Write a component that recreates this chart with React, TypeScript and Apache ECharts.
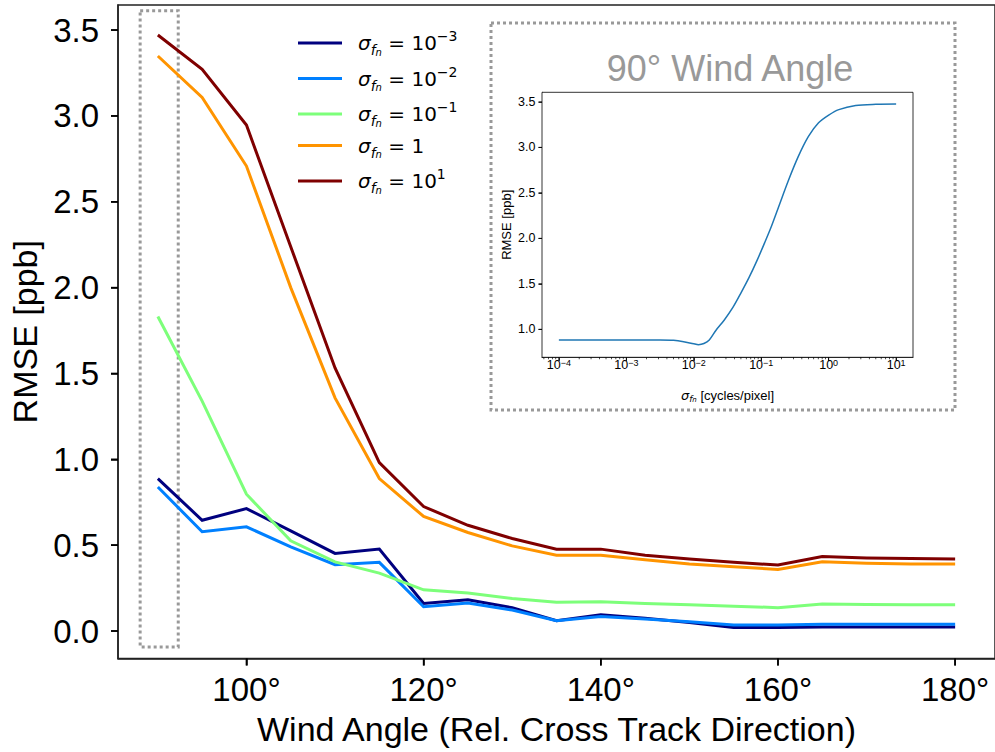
import React, { useEffect, useRef } from 'react';
import * as echarts from 'echarts';

// ---- Main chart data ----
const angles = [90, 95, 100, 105, 110, 115, 120, 125, 130, 135, 140, 145, 150, 155, 160, 165, 170, 175, 180];
const rmseSigma1e3 = [0.888, 0.645, 0.713, 0.583, 0.452, 0.477, 0.161, 0.182, 0.136, 0.06, 0.095, 0.075, 0.05, 0.02, 0.02, 0.023, 0.023, 0.023, 0.023];
const rmseSigma1e2 = [0.839, 0.578, 0.607, 0.49, 0.386, 0.40, 0.141, 0.163, 0.122, 0.06, 0.085, 0.07, 0.054, 0.035, 0.035, 0.04, 0.04, 0.04, 0.04];
const rmseSigma1e1 = [1.832, 1.339, 0.797, 0.525, 0.403, 0.337, 0.24, 0.221, 0.19, 0.167, 0.171, 0.161, 0.153, 0.145, 0.136, 0.157, 0.155, 0.153, 0.153];
const rmseSigma1 = [3.349, 3.108, 2.708, 2.0, 1.358, 0.888, 0.667, 0.574, 0.496, 0.442, 0.442, 0.415, 0.39, 0.374, 0.359, 0.403, 0.395, 0.391, 0.39];
const rmseSigma10 = [3.471, 3.272, 2.947, 2.238, 1.532, 0.981, 0.725, 0.616, 0.539, 0.477, 0.477, 0.442, 0.419, 0.40, 0.384, 0.434, 0.426, 0.422, 0.419];

const seriesNames = ['1e-3', '1e-2', '1e-1', '1', '1e1'];
const seriesExponents = ['−3', '−2', '−1', '', '1'];
const seriesColors = ['#00007f', '#0080ff', '#7dff7a', '#ff9400', '#7f0000'];
const seriesValues = [rmseSigma1e3, rmseSigma1e2, rmseSigma1e1, rmseSigma1, rmseSigma10];

const xTicks = [100, 120, 140, 160, 180];
const yTicks = [0, 0.5, 1.0, 1.5, 2.0, 2.5, 3.0, 3.5];
const xRange = [85.5, 184.5];
const yRange = [-0.16, 3.646];

// dotted highlight box around the 90° column (data coordinates)
const boxX = [88.0, 92.3];
const boxY = [-0.093, 3.613];

// ---- Inset data (log10 of sigma_fn vs RMSE at 90°) ----
const insetLogSigma = [-4, -3.5, -3, -2.5, -2.3, -2.15, -2.0, -1.93, -1.85, -1.77, -1.67, -1.55, -1.42, -1.3, -1.18, -1.06, -0.95, -0.85, -0.74, -0.6, -0.45, -0.3, -0.15, 0, 0.15, 0.4, 0.7, 1.0];
const insetRmse = [0.882, 0.882, 0.882, 0.882, 0.879, 0.864, 0.840, 0.831, 0.843, 0.882, 0.99, 1.10, 1.24, 1.40, 1.57, 1.76, 1.95, 2.13, 2.35, 2.63, 2.9, 3.12, 3.27, 3.355, 3.415, 3.46, 3.473, 3.476];
const insetXTicks = [-4, -3, -2, -1, 0, 1];
const insetYTicks = [1.0, 1.5, 2.0, 2.5, 3.0, 3.5];
const insetXRange = [-4.25, 1.25];
const insetYRange = [0.692, 3.605];
const insetMinorMultipliers = [2, 3, 4, 5, 6, 7, 8, 9];
const insetDecades = [-5, -4, -3, -2, -1, 0, 1];

const FONT = '"Liberation Sans", Arial, Helvetica, sans-serif';
const MATH = '"DejaVu Sans", sans-serif';

export default function App() {
  const ref = useRef<HTMLDivElement>(null);

  useEffect(() => {
    if (!ref.current) return;
    const chart = echarts.init(ref.current, undefined, { renderer: 'svg' });

    const minorTicks: number[] = [];
    insetDecades.forEach((d) => {
      insetMinorMultipliers.forEach((m) => {
        const v = d + Math.log10(m);
        if (v > insetXRange[0] && v < insetXRange[1]) minorTicks.push(v);
      });
    });

    const legendRich = {
      s: { fontFamily: MATH, fontStyle: 'italic', fontSize: 20, lineHeight: 28, color: '#000' },
      f: { fontFamily: MATH, fontStyle: 'italic', fontSize: 14, lineHeight: 14, verticalAlign: 'bottom', color: '#000' },
      n: { fontFamily: MATH, fontStyle: 'italic', fontSize: 10, lineHeight: 10, verticalAlign: 'bottom', color: '#000' },
      t: { fontFamily: MATH, fontSize: 20, lineHeight: 28, color: '#000' },
      p: { fontFamily: MATH, fontSize: 14, lineHeight: 14, verticalAlign: 'top', color: '#000' },
    };

    const series: any[] = seriesNames.map((name, k) => ({
      name,
      type: 'line',
      xAxisIndex: 0,
      yAxisIndex: 0,
      data: angles.map((a, i) => [a, seriesValues[k][i]]),
      symbol: 'none',
      lineStyle: { width: 3, color: seriesColors[k], cap: 'butt', join: 'miter' },
      itemStyle: { color: seriesColors[k] },
      z: 3 + k,
    }));

    series[0].markArea = {
      silent: true,
      itemStyle: { color: 'rgba(0,0,0,0)', borderColor: '#999999', borderWidth: 3, borderType: [3, 3] },
      data: [[{ coord: [boxX[0], boxY[1]] }, { coord: [boxX[1], boxY[0]] }]],
    };

    series.push({
      name: 'inset',
      type: 'line',
      xAxisIndex: 1,
      yAxisIndex: 1,
      data: insetLogSigma.map((x, i) => [x, insetRmse[i]]),
      symbol: 'none',
      smooth: 0.3,
      lineStyle: { width: 1.5, color: '#1f77b4' },
      itemStyle: { color: '#1f77b4' },
      z: 10,
    });

    const mainLine = { show: true, onZero: false, lineStyle: { color: '#222', width: 1.5 } };
    const insetLine = { show: true, onZero: false, lineStyle: { color: '#000', width: 0.8 } };

    const baseGraphics: any[] = [
      {
        type: 'rect', z: 100, silent: true,
        shape: { x: 491, y: 23, width: 464, height: 387 },
        style: { fill: 'none', stroke: '#999999', lineWidth: 3, lineDash: [3, 3] },
      },
      {
        type: 'text', z: 100, silent: true, x: 730, y: 68,
        style: { text: '90° Wind Angle', fontSize: 36, fontFamily: FONT, fill: '#999999', align: 'center', verticalAlign: 'middle' },
      },
    ];

    const option: any = {
      animation: false,
      backgroundColor: '#ffffff',
      textStyle: { fontFamily: FONT },
      grid: [
        { left: 118, top: 5, width: 878, height: 653.5, show: true, borderColor: '#222', borderWidth: 1.5, backgroundColor: 'transparent' },
        { left: 542, top: 92.3, width: 371, height: 265, show: true, borderColor: '#000', borderWidth: 0.8, backgroundColor: '#fff', z: 5 },
      ],
      legend: {
        data: seriesNames,
        orient: 'vertical',
        left: 298,
        top: 29,
        padding: 0,
        itemGap: 7.5,
        itemWidth: 44,
        itemHeight: 3,
        icon: 'rect',
        selectedMode: false,
        formatter: (name: string) => {
          const e = seriesExponents[seriesNames.indexOf(name)];
          return e === '' ? '{s|σ}{f|f}{n|n}{t| = 1}' : `{s|σ}{f|f}{n|n}{t| = 10}{p|${e}}`;
        },
        textStyle: { padding: [0, 0, 0, 11], rich: legendRich },
      },
      xAxis: [
        {
          type: 'value', gridIndex: 0, min: xRange[0], max: xRange[1], position: 'bottom',
          axisLine: mainLine, splitLine: { show: false },
          axisTick: { show: true, customValues: xTicks, length: 7, lineStyle: { color: '#000', width: 1.5 } },
          axisLabel: { show: true, customValues: xTicks, formatter: (v: number) => `${v}°`, fontSize: 33, color: '#000', fontFamily: FONT, margin: 14 },
          name: 'Wind Angle (Rel. Cross Track Direction)', nameLocation: 'middle', nameGap: 53,
          nameTextStyle: { fontSize: 34, fontFamily: FONT, color: '#000' },
        },
        {
          type: 'value', gridIndex: 1, min: insetXRange[0], max: insetXRange[1], position: 'bottom',
          axisLine: insetLine, splitLine: { show: false },
          axisTick: { show: true, customValues: insetXTicks, length: 3.5, lineStyle: { color: '#000', width: 0.8 } },
          axisLabel: {
            show: true, customValues: insetXTicks, margin: 1.5,
            formatter: (v: number) => `{b|10}{p|${v < 0 ? '−' + Math.abs(v) : v}}`,
            rich: {
              b: { fontFamily: FONT, fontSize: 12.5, lineHeight: 12, color: '#000' },
              p: { fontFamily: FONT, fontSize: 9, lineHeight: 2, verticalAlign: 'top', color: '#000' },
            },
          },
          name: '{s|σ}{f|f}{n|n}{t| [cycles/pixel]}', nameLocation: 'middle', nameGap: 30,
          nameTextStyle: {
            rich: {
              s: { fontFamily: MATH, fontStyle: 'italic', fontSize: 13, lineHeight: 16, color: '#000' },
              f: { fontFamily: MATH, fontStyle: 'italic', fontSize: 9, lineHeight: 8, verticalAlign: 'bottom', color: '#000' },
              n: { fontFamily: MATH, fontStyle: 'italic', fontSize: 7, lineHeight: 5, verticalAlign: 'bottom', color: '#000' },
              t: { fontFamily: FONT, fontSize: 13, lineHeight: 16, color: '#000' },
            },
          },
        },
      ],
      yAxis: [
        {
          type: 'value', gridIndex: 0, min: yRange[0], max: yRange[1], position: 'left',
          axisLine: mainLine, splitLine: { show: false },
          axisTick: { show: true, customValues: yTicks, length: 7, lineStyle: { color: '#000', width: 1.5 } },
          axisLabel: { show: true, customValues: yTicks, formatter: (v: number) => v.toFixed(1), fontSize: 33, color: '#000', fontFamily: FONT, margin: 19 },
          name: 'RMSE [ppb]', nameLocation: 'middle', nameGap: 71,
          nameTextStyle: { fontSize: 34, fontFamily: FONT, color: '#000' },
        },
        {
          type: 'value', gridIndex: 1, min: insetYRange[0], max: insetYRange[1], position: 'left',
          axisLine: insetLine, splitLine: { show: false },
          axisTick: { show: true, customValues: insetYTicks, length: 3.5, lineStyle: { color: '#000', width: 0.8 } },
          axisLabel: { show: true, customValues: insetYTicks, formatter: (v: number) => v.toFixed(1), fontSize: 12.5, color: '#000', fontFamily: FONT, margin: 6.5 },
          name: 'RMSE [ppb]', nameLocation: 'middle', nameGap: 29,
          nameTextStyle: { fontSize: 13, fontFamily: FONT, color: '#000' },
        },
      ],
      graphic: baseGraphics,
      series,
    };

    chart.setOption(option);

    // tick marks as filled rects; positions from the chart's own axis scales
    const tickGraphics: any[] = [];
    const addTicks = (gridIndex: number, pts: number[][], horizontal: boolean, len: number, w: number) => {
      pts.forEach((pt) => {
        const c = chart.convertToPixel({ gridIndex } as any, pt) as any;
        if (!c || isNaN(c[0]) || isNaN(c[1])) return;
        const shape = horizontal
          ? { x: c[0] - len, y: c[1] - w / 2, width: len, height: w }
          : { x: c[0] - w / 2, y: c[1], width: w, height: len };
        tickGraphics.push({ type: 'rect', z: 95, silent: true, shape, style: { fill: '#000' } });
      });
    };
    addTicks(0, xTicks.map((v) => [v, yRange[0]]), false, 7, 1.6);
    addTicks(0, yTicks.map((v) => [xRange[0], v]), true, 7, 1.6);
    addTicks(1, insetXTicks.map((v) => [v, insetYRange[0]]), false, 3.5, 0.9);
    addTicks(1, minorTicks.map((v) => [v, insetYRange[0]]), false, 2, 0.7);
    addTicks(1, insetYTicks.map((v) => [insetXRange[0], v]), true, 3.5, 0.9);

    chart.setOption({ graphic: [...baseGraphics, ...tickGraphics] });

    return () => chart.dispose();
  }, []);

  return <div ref={ref} style={{ position: 'fixed', left: 0, top: 0, width: 995, height: 752, background: '#fff' }} />;
}
